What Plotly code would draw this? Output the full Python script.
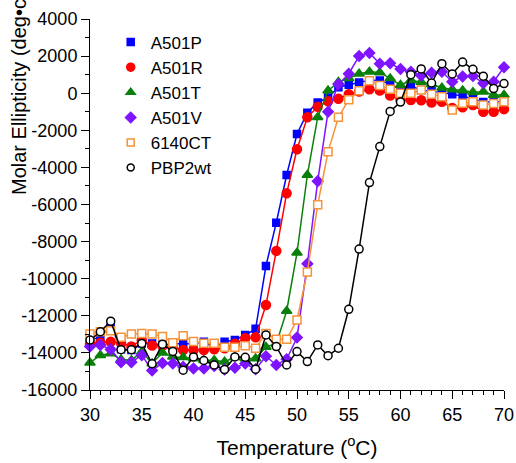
import plotly.graph_objects as go

temps = list(range(30, 71))

a501p = [-13270, -13180, -12500, -13800, -13850, -13490, -13490, -13580, -13500, -13500,
         -13500, -13400, -13700, -13400, -13300, -13040, -12700, -9310, -6980, -4410,
         -2200, -1050, -500, -230, 320, 450, 580, 700, 690, 500,
         180, 380, 170, 100, 50, -50, -170, -300, -480, -450, -460]

a501r = [-13500, -13450, -13400, -13450, -13650, -13300, -13600, -13620, -13700, -13840,
         -13860, -13840, -13800, -13750, -13500, -13210, -13160, -11420, -8500, -5400,
         -3020, -1300, -730, -430, -300, -60, 90, 210, 150, -120,
         -370, -370, -380, -500, -460, -800, -760, -640, -1000, -1000, -860]

a501t = [-14530, -14120, -14030, -14350, -14390, -13940, -14570, -13990, -14210, -14240,
         -14300, -14390, -14390, -14480, -14240, -14300, -14300, -13680, -13500, -11740,
         -8600, -4410, -1290, 140, 600, 800, 1050, 1160, 1120, 800,
         440, 700, 600, 480, 300, 200, 150, 50, 80, -100, -100]

a501v = [-13650, -13580, -13810, -14500, -14500, -14120, -14950, -14550, -14570, -14750,
         -14840, -14840, -14700, -14900, -14800, -14570, -14880, -14180, -14650, -14340,
         -13170, -9200, -4740, -1000, 480, 1050, 2000, 2170, 1590, 1610,
         1300, 1150, 950, 1100, 1160, 620, 900, 930, 535, 620, 1400]

ct6140 = [-12980, -12860, -12800, -13160, -12980, -12950, -12980, -13120, -13450, -13080,
          -13390, -13480, -13480, -13700, -13700, -13620, -13750, -12950, -13270, -13270,
          -12220, -9640, -6020, -3150, -1300, -350, 135, 670, 420, 210,
          0, 0, 170, -50, -190, -900, -540, -460, -640, -550, -460]

pbp2wt = [-13310, -12860, -12290, -13830, -13830, -13490, -14590, -13530, -13920, -14930,
          -14220, -14410, -14650, -14900, -14220, -14240, -14880, -13030, -13660, -14650,
          -13930, -14470, -13570, -14150, -13750, -11650, -8400, -4820, -2880, -980,
          -480, 1000, 1310, 550, 1590, 1040, 1680, 1290, 920, 250, 520]

series_names = ["A501P", "A501R", "A501T", "A501V", "6140CT", "PBP2wt"]
series_values = [a501p, a501r, a501t, a501v, ct6140, pbp2wt]

y_tick_vals = [4000, 2000, 0, -2000, -4000, -6000, -8000, -10000, -12000, -14000, -16000]
y_tick_text = [str(v) for v in y_tick_vals]

styles = [
    dict(color="#0000ff", symbol="square", size=7, fill="#0000ff", lsize=7),
    dict(color="#ff0000", symbol="circle", size=9, fill="#ff0000", lsize=8),
    dict(color="#0a800a", symbol="triangle-up", size=9, fill="#0a800a", lsize=8),
    dict(color="#7f14ff", symbol="diamond", size=8, fill="#7f14ff", lsize=8),
    dict(color="#f5923a", symbol="square", size=8, fill="white", lsize=7),
    dict(color="#000000", symbol="circle", size=8, fill="white", lsize=7),
]

fig = go.Figure()
for name, vals, st in zip(series_names, series_values, styles):
    fig.add_trace(go.Scatter(
        x=temps, y=vals, mode="lines+markers", name=name, showlegend=False,
        cliponaxis=False,
        line=dict(color=st["color"], width=1.5),
        marker=dict(symbol=st["symbol"], size=st["size"], color=st["fill"],
                    line=dict(color=st["color"], width=1.5)),
    ))

# legend-only entries (markers only)
for i, (name, st) in enumerate(zip(series_names, styles)):
    fig.add_trace(go.Scatter(
        x=[None], y=[None], mode="markers", name=name, legendgroup=f"g{i}",
        marker=dict(symbol=st["symbol"], size=st["lsize"], color=st["fill"],
                    line=dict(color=st["color"], width=1.5)),
    ))

font_family = "Liberation Sans, Arial, sans-serif"

fig.update_layout(
    width=516, height=463,
    margin=dict(l=90, r=12, t=19, b=73, autoexpand=False),
    paper_bgcolor="white", plot_bgcolor="white",
    font=dict(family=font_family, size=18, color="black"),
    showlegend=True,
    legend=dict(x=0.05, y=0.985, xanchor="left", yanchor="top",
                bgcolor="rgba(0,0,0,0)", font=dict(size=17),
                tracegroupgap=0, itemwidth=30),
    xaxis=dict(range=[30, 70], dtick=5, tick0=30, showgrid=False, zeroline=False,
               automargin=False,
               showline=True, linecolor="black", linewidth=1,
               ticks="outside", ticklen=8, tickcolor="black", tickwidth=1,
               minor=dict(dtick=1, ticks="outside", ticklen=4, tickcolor="black", showgrid=False),
               tickfont=dict(size=18),
               title=dict(text="Temperature (<sup>o</sup>C)", font=dict(size=21), standoff=16)),
    yaxis=dict(range=[-16000, 4000], tickvals=y_tick_vals, ticktext=y_tick_text,
               showgrid=False, zeroline=False, automargin=False,
               showline=True, linecolor="black", linewidth=1,
               ticks="outside", ticklen=8, tickcolor="black", tickwidth=1,
               minor=dict(dtick=1000, ticks="outside", ticklen=4, tickcolor="black", showgrid=False),
               tickfont=dict(size=18)),
    annotations=[dict(
        text="Molar Ellipticity (deg•cm<sup>2</sup>•dmol<sup>-1</sup>)",
        textangle=-90, xref="paper", yref="paper",
        x=(17 - 90) / 414, y=(390 - 197) / 371,
        xanchor="center", yanchor="bottom", showarrow=False,
        font=dict(size=20, family=font_family, color="black"),
    )],
)

fig.write_html("out.html")
